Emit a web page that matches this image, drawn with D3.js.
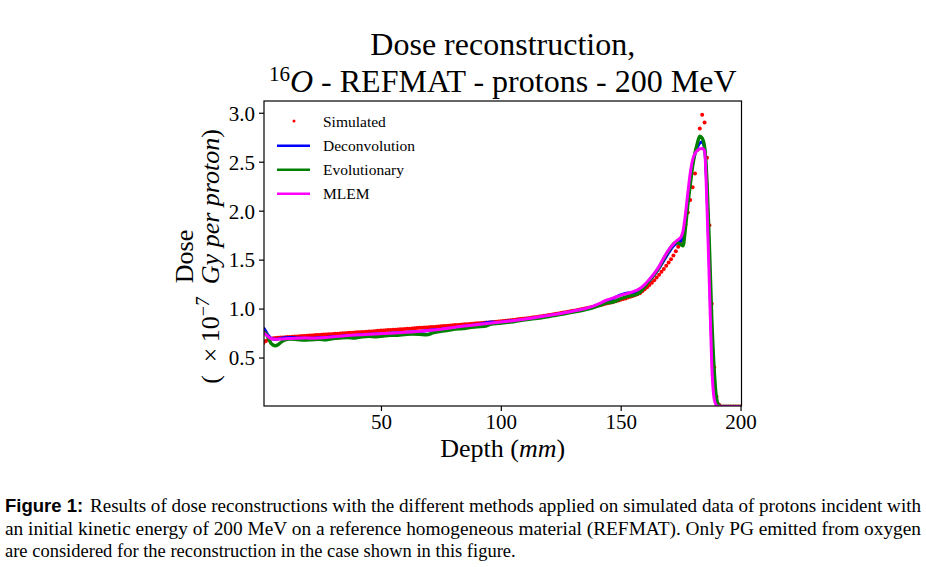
<!DOCTYPE html>
<html><head><meta charset="utf-8">
<script src="https://cdn.jsdelivr.net/npm/d3@7"></script>
<style>
html,body{margin:0;padding:0;background:#fff;}
svg{display:block;}
text{font-family:"Liberation Serif","DejaVu Serif",serif;fill:#000;}
</style></head><body>
<svg id="chart" width="926" height="567"></svg>
<script>
// ---- data ----
const simDepth = d3.range(1, 201); // 1 mm bins
const simulated = [
0.650,0.668,0.683,0.692,0.697,0.700,0.702,0.704,0.705,0.707,
0.709,0.710,0.712,0.714,0.715,0.717,0.719,0.720,0.722,0.724,
0.725,0.727,0.729,0.730,0.732,0.734,0.735,0.737,0.739,0.740,
0.742,0.744,0.745,0.747,0.749,0.750,0.752,0.754,0.756,0.757,
0.759,0.761,0.762,0.764,0.766,0.767,0.769,0.771,0.773,0.775,
0.776,0.778,0.780,0.781,0.783,0.785,0.787,0.788,0.790,0.792,
0.794,0.795,0.797,0.799,0.801,0.803,0.804,0.806,0.808,0.810,
0.812,0.813,0.815,0.817,0.819,0.821,0.823,0.825,0.827,0.829,
0.831,0.833,0.835,0.837,0.839,0.841,0.843,0.845,0.847,0.849,
0.851,0.853,0.855,0.857,0.859,0.861,0.863,0.865,0.867,0.870,
0.872,0.875,0.878,0.881,0.884,0.887,0.890,0.893,0.896,0.899,
0.902,0.905,0.908,0.912,0.915,0.919,0.922,0.926,0.930,0.934,
0.938,0.942,0.946,0.950,0.955,0.959,0.963,0.968,0.972,0.977,
0.981,0.986,0.991,0.996,1.001,1.006,1.011,1.017,1.022,1.028,
1.033,1.039,1.045,1.051,1.057,1.063,1.070,1.076,1.083,1.090,
1.097,1.104,1.112,1.120,1.128,1.137,1.146,1.156,1.176,1.197,
1.218,1.240,1.265,1.290,1.318,1.346,1.375,1.405,1.437,1.470,
1.505,1.543,1.585,1.632,1.685,1.760,1.860,1.980,2.110,2.240,
2.380,2.620,2.840,2.980,2.900,2.540,1.850,1.050,0.400,0.100,
0.020,0,0,0,0,0,0,0,0,0];

const recDepth = [1,2,3,4,5,6,7,8,10,12,15,18,21,24,27,30,33,36,39,42,45,48,51,54,57,60,63,66,69,72,75,78,81,84,87,90,93,96,99,102,105,108,111,114,117,120,123,126,129,132,135,138,141,144,147,150,153,156,158,160,162,164,166,168,170,172,173,174,175,176,177,178,179,180,181,182,183,184,185,186,187,188,189,190,191,192,193,200];

const deconvolution = [0.805,0.765,0.725,0.700,0.690,0.688,0.690,0.695,0.702,0.705,0.700,0.696,0.698,0.702,0.705,0.712,0.716,0.722,0.726,0.732,0.737,0.740,0.744,0.748,0.752,0.756,0.760,0.766,0.774,0.783,0.790,0.798,0.808,0.818,0.826,0.835,0.850,0.862,0.858,0.870,0.876,0.884,0.893,0.904,0.916,0.928,0.940,0.953,0.966,0.980,0.996,1.015,1.040,1.075,1.105,1.140,1.160,1.165,1.190,1.230,1.285,1.345,1.410,1.490,1.570,1.640,1.660,1.680,1.690,1.720,1.880,2.100,2.330,2.480,2.580,2.650,2.690,2.700,2.640,2.200,1.450,0.600,0.150,0.030,0.005,0,0,0];

const evolutionary = [0.760,0.745,0.700,0.650,0.628,0.620,0.630,0.650,0.680,0.688,0.684,0.678,0.682,0.686,0.680,0.693,0.700,0.705,0.700,0.712,0.718,0.712,0.720,0.726,0.728,0.735,0.740,0.738,0.732,0.755,0.768,0.778,0.790,0.795,0.806,0.815,0.818,0.842,0.850,0.857,0.866,0.878,0.888,0.897,0.905,0.918,0.932,0.945,0.958,0.972,0.988,1.005,1.030,1.055,1.068,1.100,1.125,1.140,1.166,1.220,1.290,1.350,1.420,1.510,1.590,1.660,1.675,1.670,1.655,1.640,1.820,2.060,2.260,2.450,2.590,2.690,2.760,2.740,2.650,2.300,1.650,0.900,0.380,0.080,0.010,0,0,0];

const mlem = [0.755,0.735,0.712,0.695,0.688,0.686,0.687,0.689,0.692,0.694,0.697,0.699,0.698,0.700,0.704,0.712,0.718,0.724,0.729,0.733,0.737,0.741,0.745,0.749,0.753,0.757,0.762,0.768,0.774,0.781,0.790,0.800,0.810,0.820,0.828,0.836,0.844,0.852,0.860,0.868,0.876,0.886,0.896,0.907,0.918,0.930,0.942,0.955,0.968,0.982,0.998,1.020,1.050,1.085,1.110,1.135,1.155,1.180,1.205,1.245,1.300,1.360,1.430,1.520,1.600,1.660,1.685,1.705,1.725,1.790,1.960,2.180,2.380,2.520,2.585,2.615,2.630,2.635,2.610,2.050,1.250,0.420,0.080,0.010,0,0,0,0];

const xTicks = [50, 100, 150, 200];
const yTicks = [0.5, 1.0, 1.5, 2.0, 2.5, 3.0];
const seriesNames = ["Deconvolution", "Evolutionary", "MLEM"];
const seriesColors = ["#0000ff", "#008000", "#ff00ff"];
const seriesWidths = [3, 3.4, 3];

// ---- layout ----
const svg = d3.select("#chart");
const L = 264, R = 741.5, T = 101, B = 406;
const x = d3.scaleLinear().domain([1.2, 200.4]).range([L, R]);
const y = d3.scaleLinear().domain([0.005, 3.12]).range([B, T]);

svg.append("defs").append("clipPath").attr("id", "clip")
  .append("rect").attr("x", L).attr("y", T).attr("width", R - L).attr("height", B - T);

const plot = svg.append("g").attr("clip-path", "url(#clip)");

// simulated dots
plot.append("g").selectAll("circle")
  .data(simDepth.map((d, i) => [d, simulated[i]]))
  .join("circle")
  .attr("cx", d => x(d[0])).attr("cy", d => y(d[1]))
  .attr("r", 2).attr("fill", "#ff0000");

const line = d3.line().x(d => x(d[0])).y(d => y(d[1])).curve(d3.curveMonotoneX);
[deconvolution, evolutionary, mlem].forEach((vals, k) => {
  plot.append("path")
    .datum(recDepth.map((d, i) => [d, vals[i]]))
    .attr("d", line)
    .attr("fill", "none")
    .attr("stroke", seriesColors[k])
    .attr("stroke-width", seriesWidths[k])
    .attr("stroke-linejoin", "round");
});

// axes
const xAxis = d3.axisBottom(x).tickValues(xTicks).tickSize(5).tickPadding(4).tickFormat(d3.format("d"));
const yAxis = d3.axisLeft(y).tickValues(yTicks).tickSize(5).tickPadding(4).tickFormat(d3.format(".1f"));
const gx = svg.append("g").attr("transform", `translate(0,${B})`).call(xAxis);
const gy = svg.append("g").attr("transform", `translate(${L},0)`).call(yAxis);
[gx, gy].forEach(g => {
  g.select(".domain").remove();
  g.selectAll(".tick line").attr("stroke", "#000").attr("stroke-width", 1.2);
  g.selectAll(".tick text").attr("font-family", "Liberation Serif").attr("font-size", 21).attr("fill", "#000");
});
gx.selectAll(".tick text").attr("dy", "0.67em");
gy.selectAll(".tick text").attr("dy", "0.35em");

// frame
svg.append("rect").attr("x", L).attr("y", T).attr("width", R - L).attr("height", B - T)
  .attr("fill", "none").attr("stroke", "#000").attr("stroke-width", 1.2);

// legend
const leg = svg.append("g");
leg.append("circle").attr("cx", 294).attr("cy", 121).attr("r", 1.5).attr("fill", "#ff0000");
leg.append("text").attr("x", 323).attr("y", 126.5).attr("font-size", 15.5).text("Simulated");
seriesNames.forEach((n, k) => {
  const yy = 145.7 + k * 24;
  leg.append("line").attr("x1", 277).attr("x2", 310).attr("y1", yy).attr("y2", yy)
    .attr("stroke", seriesColors[k]).attr("stroke-width", 2.5);
  leg.append("text").attr("x", 323).attr("y", yy + 5.5).attr("font-size", 15.5).text(n);
});

// title
const cx = (L + R) / 2;
svg.append("text").attr("x", cx).attr("y", 55).attr("text-anchor", "middle")
  .attr("font-size", 32).text("Dose reconstruction,");
const t2 = svg.append("text").attr("x", cx).attr("y", 92).attr("text-anchor", "middle").attr("font-size", 32);
t2.append("tspan").attr("font-size", 21).attr("dy", -11).text("16");
t2.append("tspan").attr("font-style", "italic").attr("dy", 11).text("O");
t2.append("tspan").text(" - REFMAT - protons - 200 MeV");

// x label
const xl = svg.append("text").attr("x", cx).attr("y", 457).attr("text-anchor", "middle").attr("font-size", 26);
xl.append("tspan").text("Depth (");
xl.append("tspan").attr("font-style", "italic").text("mm");
xl.append("tspan").text(")");

// y label
const ycy = (T + B) / 2 + 3;
svg.append("text").attr("transform", `translate(193,${ycy}) rotate(-90)`).attr("text-anchor", "middle")
  .attr("font-size", 26).text("Dose");
const yl = svg.append("text").attr("transform", `translate(219,${ycy}) rotate(-90)`).attr("text-anchor", "middle")
  .attr("font-size", 26);
yl.append("tspan").text("(\u2002×\u200910");
yl.append("tspan").attr("font-size", 18).attr("dy", -10).text("\u2212");
yl.append("tspan").attr("font-size", 18).attr("font-style", "italic").text("7");
yl.append("tspan").attr("dy", 10).text("\u2002");
yl.append("tspan").attr("font-style", "italic").text("Gy per proton");
yl.append("tspan").text(")");

// caption
const cap = svg.append("g");
cap.append("text").attr("x", 5).attr("y", 512)
  .attr("font-family", "Liberation Sans").attr("font-weight", "bold").attr("font-size", 18.5)
  .attr("style", "font-family:'Liberation Sans',sans-serif")
  .text("Figure 1:");
cap.append("text").attr("x", 90).attr("y", 512).attr("font-size", 18.5)
  .attr("textLength", 831).attr("lengthAdjust", "spacingAndGlyphs")
  .text("Results of dose reconstructions with the different methods applied on simulated data of protons incident with");
cap.append("text").attr("x", 5).attr("y", 535).attr("font-size", 18.5)
  .attr("textLength", 916).attr("lengthAdjust", "spacingAndGlyphs")
  .text("an initial kinetic energy of 200 MeV on a reference homogeneous material (REFMAT). Only PG emitted from oxygen");
cap.append("text").attr("x", 5).attr("y", 557).attr("font-size", 18.5)
  .text("are considered for the reconstruction in the case shown in this figure.");
</script>
</body></html>
